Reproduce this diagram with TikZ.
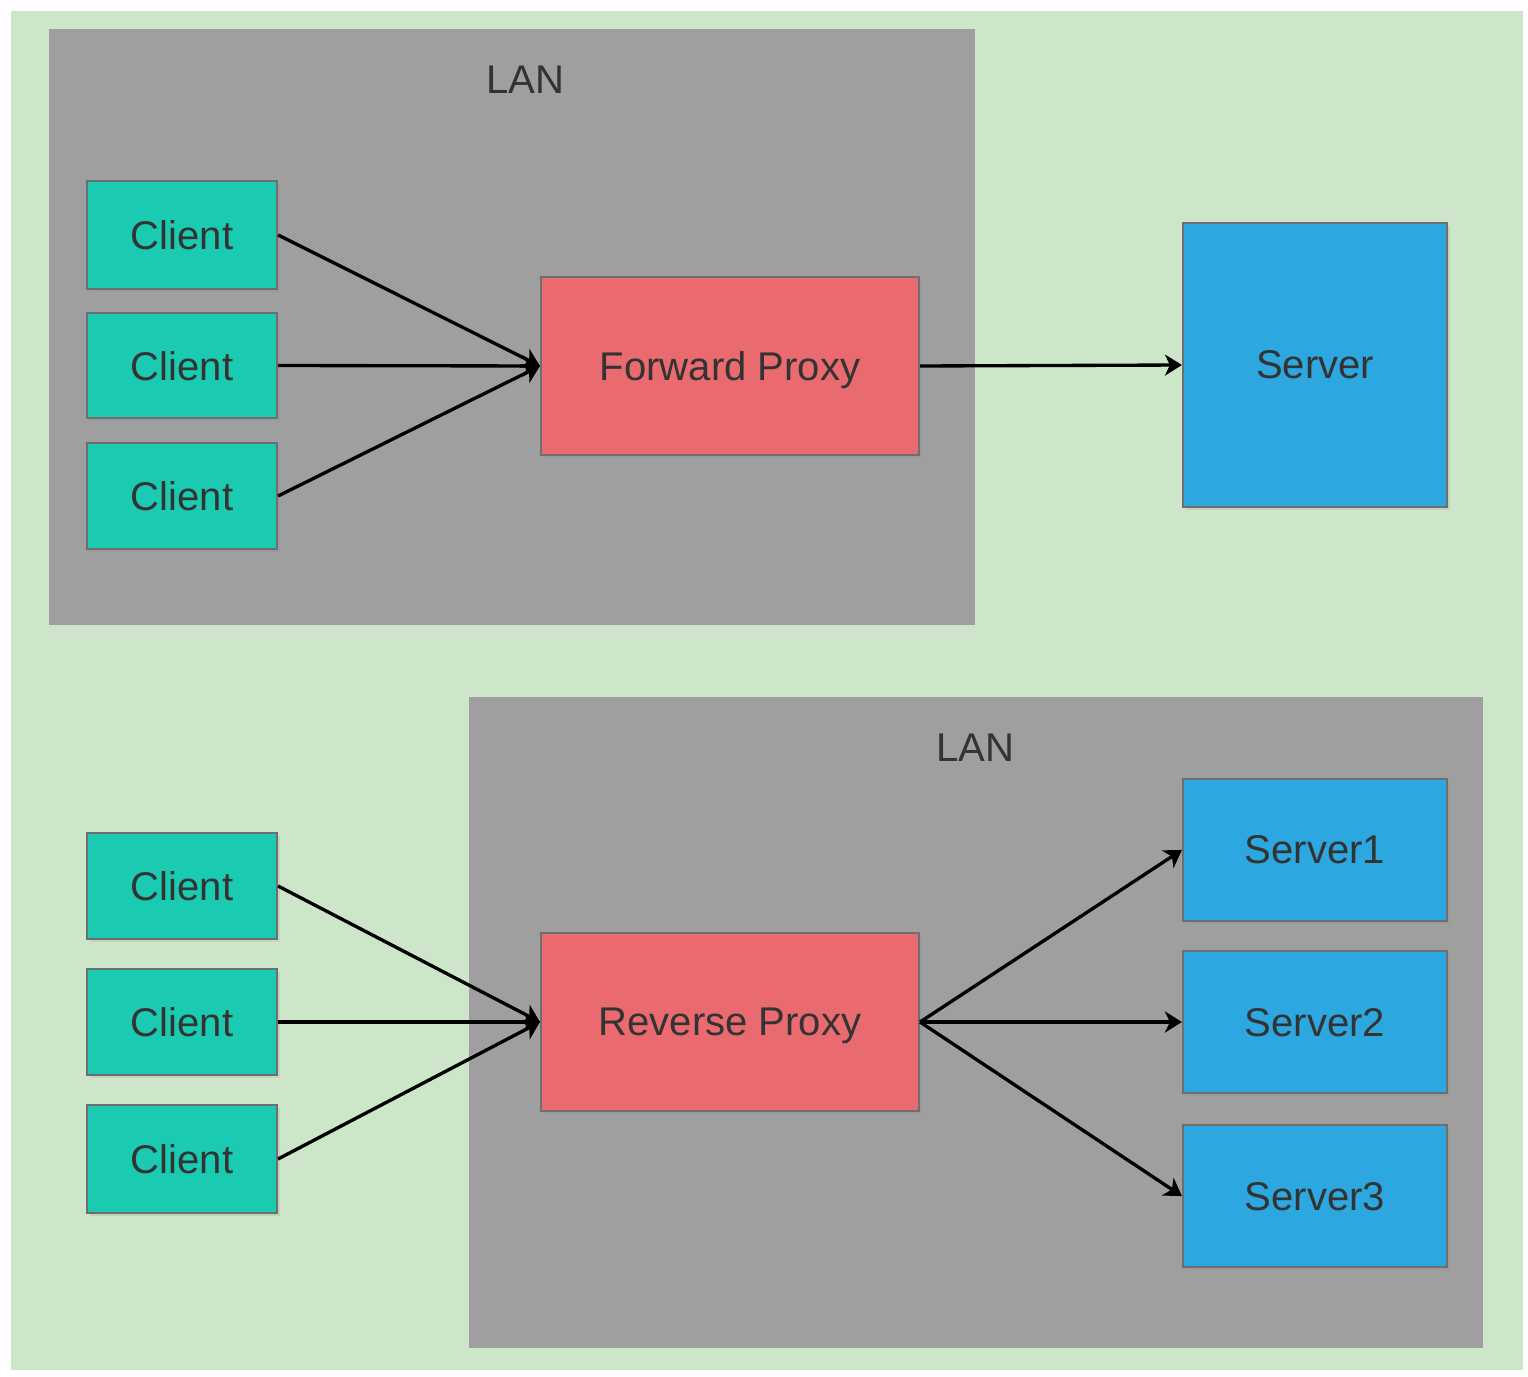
\documentclass[tikz,border=0pt]{standalone}
\usepackage{fontspec}
\setmainfont{Liberation Sans}
\usepackage{tikz}
\usetikzlibrary{arrows.meta,positioning,shadows}

\definecolor{bggreen}{HTML}{CDE5C8}
\definecolor{langray}{HTML}{9E9F9E}
\definecolor{clientcol}{HTML}{1ACBB1}
\definecolor{proxycol}{HTML}{EA6B6F}
\definecolor{servercol}{HTML}{2CA7E0}
\definecolor{boxline}{HTML}{6E6E6E}
\definecolor{txt}{HTML}{333333}

\tikzset{
	box/.style={rectangle, draw=boxline, line width=0.6pt, text=txt, inner sep=0pt,
		text depth=0pt, font=\fontsize{11.4}{13}\selectfont,
		drop shadow={shadow xshift=0.03cm, shadow yshift=-0.03cm, opacity=0.15}},
	client/.style={box, fill=clientcol, minimum width=1.9cm, minimum height=1.06cm},
	proxy/.style={box, fill=proxycol, minimum width=3.78cm, minimum height=1.78cm},
	server/.style={box, fill=servercol, minimum width=2.64cm, minimum height=1.42cm},
	lan/.style={fill=langray},
	lanlabel/.style={text=txt, font=\fontsize{11.4}{13}\selectfont},
	link/.style={-{Stealth[length=0.17cm, width=0.21cm, inset=0.05cm]}, line width=0.95pt, black}
}

\begin{document}
\begin{tikzpicture}
	\useasboundingbox (0,0) rectangle (15.28,13.76);
	\fill[bggreen] (0.11,0.06) rectangle (15.23,13.65);
	% LAN areas
	\fill[lan] (0.49,7.51) rectangle (9.75,13.47);
	\node[lanlabel] (lanA) at (5.25,12.96) {LAN};
	\fill[lan] (4.69,0.28) rectangle (14.83,6.79);
	\node[lanlabel] (lanB) at (9.75,6.28) {LAN};

	% forward proxy
	\node (c1) [client, minimum height=1.08cm] at (1.82,11.41) {Client};
	\node (c2) [client, minimum height=1.05cm] at (1.82,10.105) {Client};
	\node (c3) [client] at (1.82,8.80) {Client};
	\node (fwd) [proxy] at (7.30,10.10) {Forward Proxy};
	\node (srv) [server, minimum height=2.84cm] at (13.15,10.11) {Server};

	% reverse proxy
	\node (c4) [client] at (1.82,4.90) {Client};
	\node (c5) [client] at (1.82,3.54) {Client};
	\node (c6) [client, minimum height=1.08cm] at (1.82,2.17) {Client};
	\node (rev) [proxy] at (7.30,3.54) {Reverse Proxy};
	\node (s2) [server] at (13.15,3.54) {Server2};
	\node (s1) [server, above=0.28cm of s2] {Server1};
	\node (s3) [server, below=0.30cm of s2] {Server3};

	\draw[link] (c1.east) -- (fwd.west);
	\draw[link] (c2.east) -- (fwd.west);
	\draw[link] (c3.east) -- (fwd.west);
	\draw[link] (fwd.east) -- (srv.west);

	\draw[link] (c4.east) -- (rev.west);
	\draw[link] (c5.east) -- (rev.west);
	\draw[link] (c6.east) -- (rev.west);
	\draw[link] (rev.east) -- (s1.west);
	\draw[link] (rev.east) -- (s2.west);
	\draw[link] (rev.east) -- (s3.west);
\end{tikzpicture}
\end{document}
